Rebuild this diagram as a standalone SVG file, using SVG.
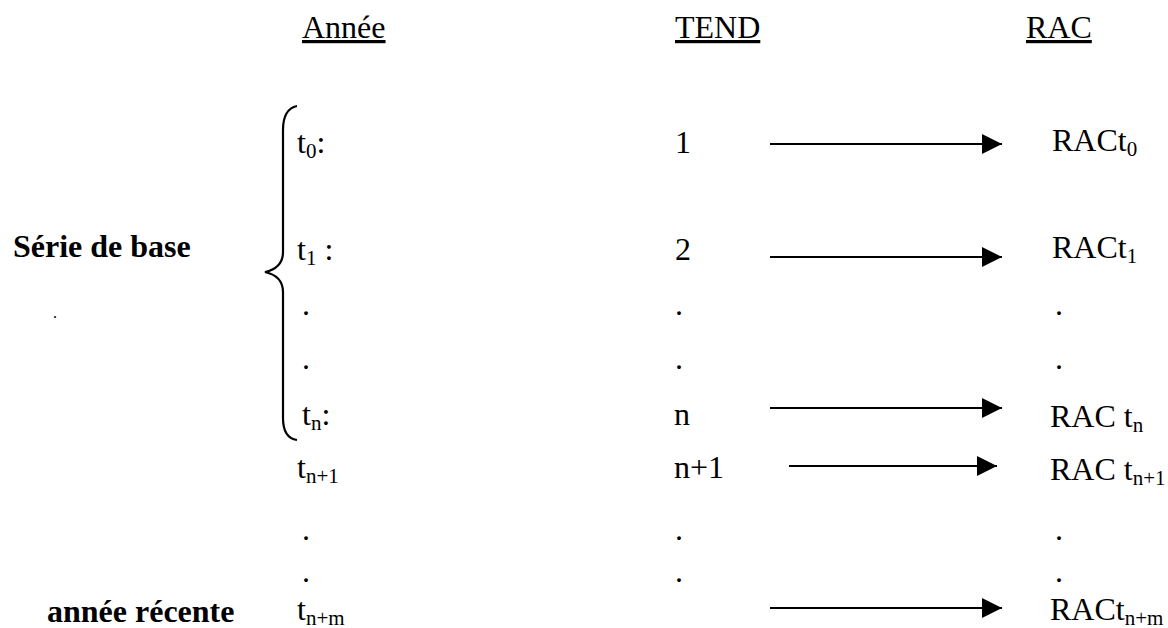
<svg xmlns="http://www.w3.org/2000/svg" width="1168" height="628" viewBox="0 0 1168 628">
<defs>
<style>
text{font-family:"Liberation Serif","Times New Roman",serif;font-size:32px;fill:#000}
.b{font-weight:bold}
.sub{font-size:21px}
.hdr{text-decoration:underline}
.conn line{stroke:#000;stroke-width:2}
.brace{fill:none;stroke:#000;stroke-width:2.2}
</style>
<marker id="ah" viewBox="0 0 20 20" refX="20" refY="10" markerWidth="20" markerHeight="20" markerUnits="userSpaceOnUse" orient="auto">
<path d="M0,0 L20,10 L0,20 Z" fill="#000"/>
</marker>
</defs>
<rect width="1168" height="628" fill="#fff"/>
<g id="headers">
<text x="302" y="38" class="hdr">Année</text>
<text x="675" y="38" class="hdr">TEND</text>
<text x="1026" y="38" class="hdr">RAC</text>
</g>
<g id="labels">
<text x="13" y="257" class="b">Série de base</text>
<text x="53" y="318" style="font-size:16px">.</text>
<text x="47" y="622" class="b">année récente</text>
</g>
<g id="brace">
<path class="brace" d="M297,106 Q283,109 283,130 L283,252 Q283,268 265,272 Q283,276 283,292 L283,418 Q283,438 297,440"/>
</g>
<g id="col-annee">
<text x="297" y="153">t<tspan class="sub" dy="5">0</tspan><tspan dy="-5">:</tspan></text>
<text x="297" y="260">t<tspan class="sub" dy="5">1</tspan><tspan dy="-5"> :</tspan></text>
<text x="302" y="315">.</text>
<text x="302" y="369">.</text>
<text x="302" y="425">t<tspan class="sub" dy="5">n</tspan><tspan dy="-5">:</tspan></text>
<text x="297" y="478">t<tspan class="sub" dy="5">n+1</tspan></text>
<text x="302" y="540">.</text>
<text x="302" y="582">.</text>
<text x="297" y="620">t<tspan class="sub" dy="5">n+m</tspan></text>
</g>
<g id="col-tend">
<text x="675" y="153">1</text>
<text x="675" y="260">2</text>
<text x="675" y="315">.</text>
<text x="675" y="369">.</text>
<text x="674" y="425">n</text>
<text x="674" y="478">n+1</text>
<text x="675" y="540">.</text>
<text x="675" y="582">.</text>
</g>
<g id="col-rac">
<text x="1052" y="151">RACt<tspan class="sub" dy="5">0</tspan></text>
<text x="1052" y="258">RACt<tspan class="sub" dy="5">1</tspan></text>
<text x="1055" y="315">.</text>
<text x="1055" y="369">.</text>
<text x="1050" y="427">RAC t<tspan class="sub" dy="5">n</tspan></text>
<text x="1050" y="480">RAC t<tspan class="sub" dy="5">n+1</tspan></text>
<text x="1055" y="540">.</text>
<text x="1055" y="582">.</text>
<text x="1050" y="620">RACt<tspan class="sub" dy="5">n+m</tspan></text>
</g>
<g id="connectors" class="conn">
<line x1="770" y1="144" x2="1002" y2="144" marker-end="url(#ah)"/>
<line x1="770" y1="257" x2="1002" y2="257" marker-end="url(#ah)"/>
<line x1="770" y1="408" x2="1002" y2="408" marker-end="url(#ah)"/>
<line x1="789" y1="466" x2="997" y2="466" marker-end="url(#ah)"/>
<line x1="770" y1="608" x2="1002" y2="608" marker-end="url(#ah)"/>
</g>
</svg>
